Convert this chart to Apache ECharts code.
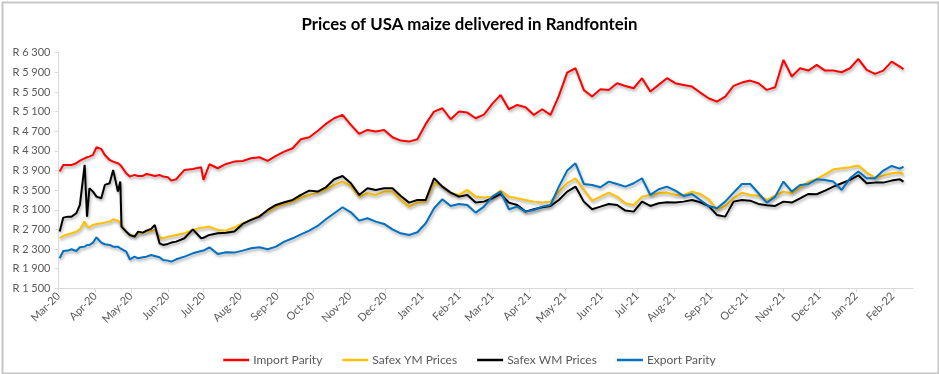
<!DOCTYPE html>
<html>
<head>
<meta charset="utf-8">
<script src="https://cdn.jsdelivr.net/npm/echarts@6/dist/echarts.min.js"></script>
<style>
html,body{margin:0;padding:0;background:#ffffff;}
#chart{width:939px;height:374px;}
</style>
</head>
<body>
<div id="chart"></div>
<script>
// ---- data ----
const dates = [
 '2020-03-02','2020-03-05','2020-03-09','2020-03-12','2020-03-16','2020-03-19','2020-03-23','2020-03-25','2020-03-27','2020-03-30',
 '2020-04-02','2020-04-06','2020-04-09','2020-04-13','2020-04-16','2020-04-20','2020-04-22','2020-04-23','2020-04-27','2020-04-30',
 '2020-05-04','2020-05-07','2020-05-11','2020-05-14','2020-05-18','2020-05-21','2020-05-25','2020-05-28','2020-06-01','2020-06-04',
 '2020-06-08','2020-06-15','2020-06-22','2020-06-29','2020-07-01','2020-07-06','2020-07-13','2020-07-20','2020-07-27','2020-08-03','2020-08-10',
 '2020-08-17','2020-08-24','2020-08-31','2020-09-07','2020-09-14','2020-09-21','2020-09-28','2020-10-05','2020-10-12','2020-10-19',
 '2020-10-26','2020-11-02','2020-11-09','2020-11-16','2020-11-23','2020-11-30','2020-12-07','2020-12-14','2020-12-21','2020-12-28',
 '2021-01-04','2021-01-11','2021-01-18','2021-01-25','2021-02-01','2021-02-08','2021-02-15','2021-02-22','2021-03-01','2021-03-08',
 '2021-03-15','2021-03-22','2021-03-29','2021-04-05','2021-04-12','2021-04-19','2021-04-26','2021-05-03','2021-05-10','2021-05-17',
 '2021-05-24','2021-05-31','2021-06-07','2021-06-14','2021-06-21','2021-06-28','2021-07-05','2021-07-12','2021-07-19','2021-07-26',
 '2021-08-02','2021-08-09','2021-08-16','2021-08-23','2021-08-30','2021-09-06','2021-09-13','2021-09-20','2021-09-27','2021-10-04',
 '2021-10-11','2021-10-18','2021-10-25','2021-11-01','2021-11-08','2021-11-15','2021-11-22','2021-11-29','2021-12-06','2021-12-13',
 '2021-12-20','2021-12-27','2022-01-03','2022-01-10','2022-01-17','2022-01-24','2022-01-31','2022-02-07','2022-02-10'
];

const importParity = [
 3878,4013,4013,4013,4047,4102,4149,4170,4183,4217,
 4373,4340,4217,4115,4081,4047,4013,3979,3844,3776,
 3810,3789,3789,3830,3810,3789,3810,3776,3762,3694,
 3721,3912,3932,3966,3708,4027,3946,4034,4081,4095,4149,
 4170,4095,4197,4285,4353,4536,4577,4706,4849,4964,
 5032,4829,4645,4727,4693,4727,4577,4509,4489,4536,
 4849,5100,5168,4944,5100,5080,4964,5040,5257,5440,
 5148,5236,5189,5032,5148,5032,5420,5895,5983,5542,
 5406,5555,5542,5678,5623,5576,5780,5508,5644,5780,
 5678,5644,5610,5488,5372,5304,5406,5623,5691,5732,
 5678,5542,5596,6153,5814,5983,5936,6051,5936,5936,
 5902,5983,6174,5949,5868,5936,6119,6017,5963
];

const safexYM = [
 2519,2567,2600,2621,2655,2702,2859,2757,2743,2791,
 2811,2825,2838,2859,2906,2879,2825,2770,2655,2587,
 2573,2621,2634,2655,2668,2689,2539,2519,2553,2567,
 2587,2621,2689,2736,2740,2757,2689,2675,2743,2825,2893,
 2981,3062,3164,3219,3266,3355,3402,3450,3518,3606,
 3674,3585,3368,3436,3402,3470,3470,3300,3164,3246,
 3266,3653,3572,3436,3402,3504,3368,3348,3368,3490,
 3368,3334,3300,3266,3246,3266,3470,3640,3742,3504,
 3286,3368,3450,3368,3232,3198,3368,3402,3436,3450,
 3402,3402,3470,3422,3314,3110,3178,3334,3450,3402,
 3388,3300,3388,3470,3436,3552,3674,3728,3823,3925,
 3946,3966,4000,3857,3755,3796,3844,3857,3823
];

const safexWM = [
 2655,2940,2960,2960,3029,3198,4014,2960,3538,3470,
 3368,3334,3606,3640,3912,3470,3674,2757,2655,2587,
 2553,2655,2634,2675,2709,2791,2417,2383,2404,2431,
 2451,2519,2700,2519,2530,2587,2621,2634,2655,2811,2893,
 2960,3096,3198,3253,3300,3402,3490,3470,3558,3721,
 3789,3640,3402,3538,3504,3538,3538,3382,3246,3300,
 3300,3742,3572,3450,3368,3402,3246,3266,3334,3422,
 3246,3198,3062,3110,3151,3178,3300,3470,3572,3266,
 3110,3164,3219,3198,3083,3062,3266,3178,3232,3253,
 3246,3266,3300,3253,3178,2995,2960,3266,3300,3286,
 3219,3192,3178,3266,3246,3334,3422,3416,3490,3572,
 3640,3708,3803,3640,3653,3653,3694,3721,3674
];

const exportParity = [
 2111,2261,2268,2295,2261,2336,2349,2383,2383,2431,
 2539,2431,2397,2383,2349,2349,2315,2295,2247,2091,
 2145,2111,2132,2145,2179,2159,2132,2077,2064,2043,
 2091,2145,2213,2261,2270,2336,2200,2234,2227,2268,2315,
 2336,2295,2349,2451,2519,2600,2675,2770,2906,3029,
 3151,3049,2879,2927,2859,2811,2702,2621,2587,2641,
 2825,3131,3314,3178,3219,3198,3042,3164,3368,3470,
 3110,3164,3062,3096,3164,3198,3572,3898,4047,3626,
 3606,3558,3674,3626,3572,3640,3742,3402,3518,3572,
 3490,3382,3422,3300,3178,3131,3266,3450,3626,3626,
 3436,3246,3368,3674,3470,3606,3626,3721,3708,3674,
 3504,3742,3878,3742,3742,3898,3993,3939,3980
];

const seriesNames = ['Import Parity', 'Safex YM Prices', 'Safex WM Prices', 'Export Parity'];
const monthNames = ['Jan','Feb','Mar','Apr','May','Jun','Jul','Aug','Sep','Oct','Nov','Dec'];
const yTicks = [1500,1900,2300,2700,3100,3500,3900,4300,4700,5100,5500,5900,6300];
const xStart = '2020-03-01';
const xEnd = '2022-02-18';

// ---- helpers ----
function pad(n){ return (n < 10 ? '0' : '') + n; }
function fmtRand(v){ return 'R ' + String(Math.round(v)).replace(/\B(?=(\d{3})+(?!\d))/g, ' '); }
function fmtMonth(s){ const p = s.split('-'); return monthNames[+p[1]-1] + '-' + p[0].slice(2); }
function isMonthStart(s){ return s.slice(8) === '01'; }

// daily calendar categories (the axis is a calendar of days)
const days = [];
(function(){
  const p = xStart.split('-'); const d = new Date(+p[0], +p[1]-1, +p[2], 12);
  while (true) {
    const s = d.getFullYear() + '-' + pad(d.getMonth()+1) + '-' + pad(d.getDate());
    days.push(s);
    if (s === xEnd) break;
    d.setDate(d.getDate() + 1);
  }
})();
const dayIndex = {}; days.forEach((s,i)=>{ dayIndex[s] = i; });
function seriesData(arr){
  const out = days.map(()=>null);
  dates.forEach((d,i)=>{ out[dayIndex[d]] = arr[i]; });
  return out;
}

const FONT = 'Lato, "Open Sans", sans-serif';
const colors = ['#ff0000', '#ffc000', '#000000', '#0070c0'];
const values = [importParity, safexYM, safexWM, exportParity];

const chart = echarts.init(document.getElementById('chart'), null, {renderer:'canvas'});
chart.setOption({
  animation: false,
  backgroundColor: '#ffffff',
  color: colors,
  textStyle: {fontFamily: FONT},
  title: {
    text: 'Prices of USA maize delivered in Randfontein',
    left: 'center', top: 11,
    textStyle: {fontFamily: FONT, fontSize: 16.8, fontWeight: 'bold', color: '#000000'}
  },
  graphic: [{
    type: 'rect', left: 0, top: 0, silent: true,
    shape: {x: 1, y: 1, width: 936, height: 371},
    style: {fill: 'none', stroke: '#c6c6c6', lineWidth: 2}
  }],
  legend: {
    top: 349, left: 'center',
    icon: 'rect',
    itemWidth: 26, itemHeight: 2.5, itemGap: 20,
    textStyle: {fontFamily: FONT, fontSize: 12, color: '#595959', padding: [0, 0, 0, -1]},
    data: seriesNames
  },
  grid: {left: 58.5, right: 26, top: 52.7, bottom: 85.7, containLabel: false, outerBoundsMode: 'none'},
  xAxis: {
    type: 'category', data: days, boundaryGap: false,
    axisLine: {show: true, lineStyle: {color: '#d9d9d9', width: 1}},
    axisTick: {show: true, length: 4, alignWithLabel: true, interval: (i, v) => isMonthStart(v), lineStyle: {color: '#d9d9d9'}},
    axisLabel: {
      interval: (i, v) => isMonthStart(v), rotate: 45, margin: 6,
      formatter: fmtMonth, color: '#595959', fontSize: 11, fontFamily: FONT
    },
    splitLine: {show: false}
  },
  yAxis: {
    type: 'value', min: 1500, max: 6300,
    axisLine: {show: true, lineStyle: {color: '#d9d9d9', width: 1}},
    axisTick: {show: true, length: 4, customValues: yTicks, lineStyle: {color: '#d9d9d9'}},
    axisLabel: {customValues: yTicks, formatter: fmtRand, color: '#595959', fontSize: 11, margin: 8, fontFamily: FONT},
    splitLine: {show: false}
  },
  series: seriesNames.map((name, i) => ({
    name: name, type: 'line', symbol: 'none', showSymbol: false, connectNulls: true,
    data: seriesData(values[i]),
    lineStyle: {width: 2, color: colors[i], shadowColor: 'rgba(0,0,0,0.35)', shadowBlur: 3, shadowOffsetX: 1, shadowOffsetY: 2},
    itemStyle: {color: colors[i]},
    z: 2 + i
  }))
});
</script>
</body>
</html>
